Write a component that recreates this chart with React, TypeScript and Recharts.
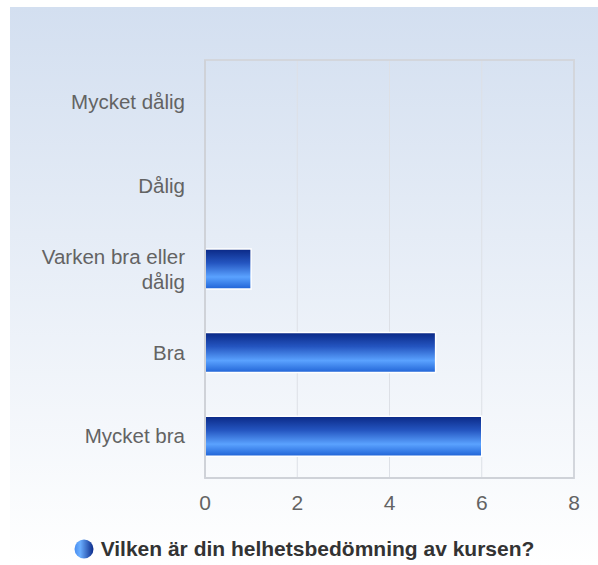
import React from "react";
import { BarChart, Bar, XAxis, YAxis, CartesianGrid, ReferenceArea } from "recharts";

const categories = ["Mycket dålig", "Dålig", "Varken bra eller dålig", "Bra", "Mycket bra"];
const counts = [0, 0, 1, 5, 6];
const xTicks = [0, 2, 4, 6, 8];
const title = "Vilken är din helhetsbedömning av kursen?";

const data = categories.map((c, i) => ({ name: c, value: counts[i] }));

const font = "'Liberation Sans', Arial, sans-serif";

const wrap = (s: string, max = 16) => {
  const lines: string[] = [];
  let cur = "";
  s.split(" ").forEach(w => {
    const next = cur ? cur + " " + w : w;
    if (next.length > max && cur) { lines.push(cur); cur = w; } else cur = next;
  });
  if (cur) lines.push(cur);
  return lines;
};

const CatTick = ({ x, y, payload }: any) => {
  const lines = wrap(payload.value);
  const lh = 25;
  const start = y - ((lines.length - 1) * lh) / 2;
  return (
    <text x={x} y={start} textAnchor="end" fill="#636363" fontSize={20.5} fontFamily={font}>
      {lines.map((l, i) => (
        <tspan key={i} x={x} y={start + i * lh} dy="0.35em">{l}</tspan>
      ))}
    </text>
  );
};

export default function App() {
  return (
    <div style={{ position: "absolute", left: 10, top: 7, width: 588, height: 558, background: "linear-gradient(#d3dff0, #ffffff)" }}>
      <BarChart width={588} height={558} data={data} layout="vertical" barCategoryGap="26%"
        margin={{ top: 53, right: 24, bottom: 41, left: 0 }}>
        <defs>
          <linearGradient id="barFill" x1="0" y1="0" x2="0" y2="1">
            <stop offset="0%" stopColor="#0a2885" />
            <stop offset="35%" stopColor="#2455c0" />
            <stop offset="70%" stopColor="#5aa2ff" />
            <stop offset="100%" stopColor="#2063d6" />
          </linearGradient>
        </defs>
        <CartesianGrid stroke="#dde0e6" strokeWidth={1} horizontal={false}
          verticalCoordinatesGenerator={({ offset }: any) => xTicks.map(t => offset.left + (t / 8) * offset.width)} />
        <ReferenceArea x1={0} x2={8} fill="none" stroke="#d3d6dc" strokeWidth={2} />
        <XAxis type="number" domain={[0, 8]} ticks={xTicks} axisLine={{ stroke: "#cfd2d8", strokeWidth: 2 }} tickLine={false}
          tick={{ fill: "#636363", fontSize: 21, fontFamily: font }} tickMargin={11} height={46} />
        <YAxis type="category" dataKey="name" width={195} axisLine={{ stroke: "#cfd2d8", strokeWidth: 2 }} tickLine={false}
          tick={<CatTick />} tickMargin={14} interval={0} />
        <Bar dataKey="value" fill="url(#barFill)" stroke="#ffffff" strokeWidth={1.5} isAnimationActive={false} />
      </BarChart>
      <div style={{ position: "absolute", left: 0, width: 588, top: 530, display: "flex", alignItems: "center", justifyContent: "center", fontFamily: font, fontWeight: 700, fontSize: 21, color: "#333" }}>
        <svg width={20} height={20} style={{ marginRight: 7 }}>
          <defs>
            <linearGradient id="dot" x1="0" y1="0" x2="1" y2="0">
              <stop offset="0%" stopColor="#4a8ef0" />
              <stop offset="30%" stopColor="#6aaeff" />
              <stop offset="100%" stopColor="#0b2a8a" />
            </linearGradient>
          </defs>
          <circle cx={10} cy={10} r={9.5} fill="url(#dot)" />
        </svg>
        {title}
      </div>
    </div>
  );
}
